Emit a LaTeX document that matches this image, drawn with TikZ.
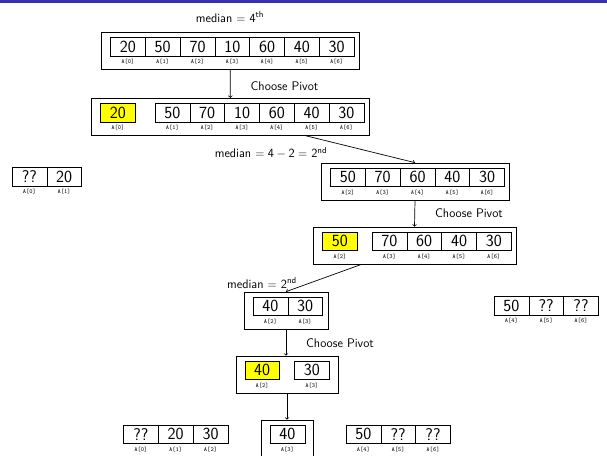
\documentclass[tikz,border=0pt]{standalone}
\usepackage{fontspec}
\definecolor{barblue}{HTML}{3333B2}
\definecolor{pivyellow}{HTML}{FFFF00}
\tikzset{
  cell/.style={draw, line width=0.6pt, minimum width=34.8pt, minimum height=18.5pt, inner sep=0pt,
    font=\sffamily\fontsize{17}{17}\selectfont},
  pivcell/.style={cell, fill=pivyellow},
  idx/.style={inner sep=0pt, font=\ttfamily\fontsize{6.2}{7}\selectfont},
  outer/.style={draw, line width=0.7pt, inner sep=0pt},
  lbl/.style={inner sep=0pt, font=\sffamily\fontsize{12.5}{13}\selectfont},
  conn/.style={->, line width=0.7pt}
}
\newcommand\arrrow[4]{%
  \foreach \v/\i [count=\k from 0] in {#4} {
    \node[cell] (#1\k) at ({#2+17.4+34.8*\k},{#3+9.25}) {\v};
    \node[idx] (#1\k i) at ({#2+17.4+34.8*\k},{#3+24.5}) {A[\i]};
  }}
\newcommand\pivot[4]{%
    \node[pivcell] (#1) at ({#2+17.2},{#3+9.25}) {#4};
}
\begin{document}
\begin{tikzpicture}[x=1pt,y=-1pt]
\useasboundingbox (0,0) rectangle (607,455);
\clip (0,0) rectangle (607,455);
\fill[white] (0,0) rectangle (607,455);
\fill[barblue] (0,0) rectangle (607,3);

% Box 1
\node[outer, minimum width=257.5pt, minimum height=37pt] (B1) at (230.25,51) {};
\arrrow{a}{110.5}{37.5}{20/0,50/1,70/2,10/3,60/4,40/5,30/6}
% Box 2
\node[outer, minimum width=277.3pt, minimum height=37pt] (B2) at (230.35,116.8) {};
\pivot{p2}{100.7}{103.3}{20}
\node[idx] (p2i) at (117.9,127.8) {A[0]};
\arrrow{b}{155}{103.3}{50/1,70/2,10/3,60/4,40/5,30/6}
% Box 3
\node[outer, minimum width=188pt, minimum height=37pt] (B3) at (415,181.5) {};
\arrrow{c}{330.5}{168}{50/2,70/3,60/4,40/5,30/6}
% Box 4
\node[outer, minimum width=203pt, minimum height=37pt] (B4) at (414.5,245.5) {};
\pivot{p4}{322.7}{232}{50}
\node[idx] (p4i) at (339.9,256.5) {A[2]};
\arrrow{d}{372}{232}{70/3,60/4,40/5,30/6}
% Box 5
\node[outer, minimum width=84pt, minimum height=37pt] (B5) at (286,310.5) {};
\arrrow{e}{253}{297}{40/2,30/3}
% Box 6
\node[outer, minimum width=102pt, minimum height=37pt] (B6) at (287,374.5) {};
\pivot{p6}{245}{361}{40}
\node[idx] (p6i) at (262.2,385.5) {A[2]};
\arrrow{f}{294.5}{361}{30/3}
% side groups
\arrrow{g}{12}{167.5}{??/0,20/1}
\arrrow{h}{494}{296.5}{50/4,??/5,??/6}
% bottom row
\arrrow{i}{123.5}{425}{??/0,20/1,30/2}
\node[outer, minimum width=52pt, minimum height=37pt] (BM) at (287,438.5) {};
\arrrow{j}{270}{425}{40/3}
\arrrow{k}{346}{425}{50/4,??/5,??/6}

% texts
\node[lbl] (t0) at (230,17) {median $=$ 4\textsuperscript{th}};
\node[lbl] (t1) at (284.5,86) {Choose Pivot};
\node[lbl] (t2) at (271,153) {median $= \mathsf{4}-\mathsf{2} =$ 2\textsuperscript{nd}};
\node[lbl] (t3) at (469,213) {Choose Pivot};
\node[lbl] (t4) at (262,283) {median $=$ 2\textsuperscript{nd}};
\node[lbl] (t5) at (340,343) {Choose Pivot};

% connectors
\coordinate (s2) at ([xshift=75pt]B2.south);
\coordinate (s4) at ([xshift=-53pt]B4.south);
\draw[conn] (B1.south) -- (B2.north);
\draw[conn] (s2) -- (B3.north);
\draw[conn] (B3.south) -- (B4.north);
\draw[conn] (s4) -- (B5.north);
\draw[conn] (B5.south) -- (B5.south |- B6.north);
\draw[conn] (B6.south) -- (BM.north);
\end{tikzpicture}
\end{document}
